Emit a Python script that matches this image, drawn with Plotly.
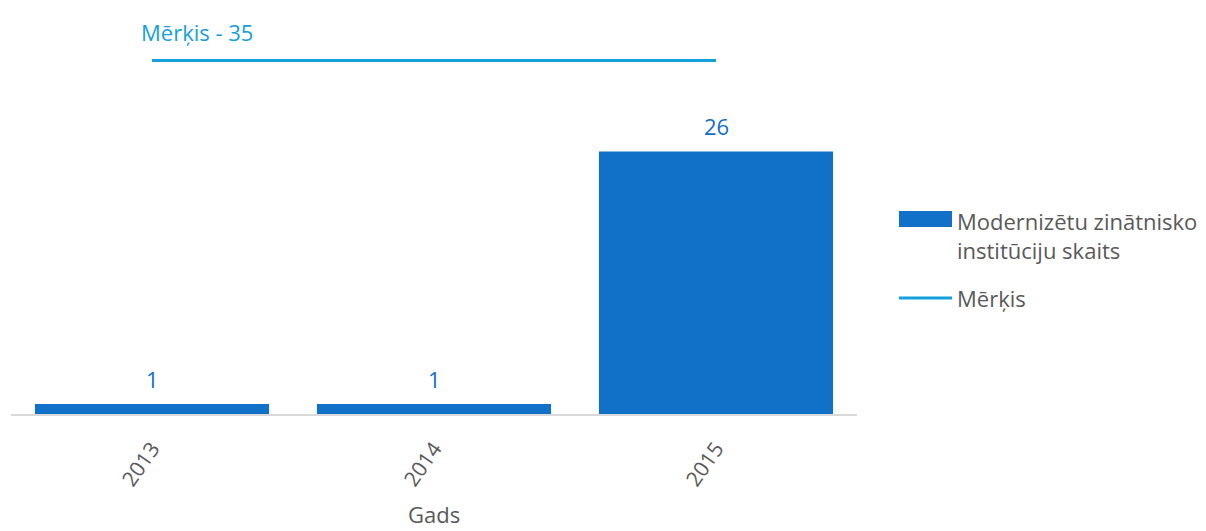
import plotly.graph_objects as go

years = ["2013", "2014", "2015"]
values = [1, 1, 26]
target = 35
target_years = ["2013", "2015"]
series_name = "Modernizētu zinātnisko<br>institūciju skaits"
target_name = "Mērķis"
x_title = "Gads"

BAR = "#1170c8"
LINE = "#14a0dc"
GREY = "#595959"
FONT = "Open Sans"

fig = go.Figure()
fig.add_trace(go.Bar(
    x=years, y=values, marker_color=BAR, marker_line_width=0,
    showlegend=False,
))
fig.add_trace(go.Scatter(
    x=target_years, y=[target, target], mode="lines",
    line=dict(color=LINE, width=3), showlegend=False,
))

# data labels
for i, v in enumerate(values):
    fig.add_annotation(x=i, y=v, xref="x", yref="y", text=str(v), showarrow=False,
                       xanchor="center", yanchor="middle", yshift=25,
                       font=dict(color=BAR, size=22, family=FONT))

fig.add_annotation(x=years.index(target_years[0]), y=target, xref="x", yref="y",
                   text=f"{target_name} - {target}", showarrow=False,
                   xanchor="left", yanchor="middle", xshift=-13, yshift=29,
                   font=dict(color=LINE, size=22, family=FONT))

# x axis title
fig.add_annotation(xref="paper", yref="paper", x=0.5, y=(414 - 514) / 404,
                   text=x_title, showarrow=False, xanchor="center", yanchor="middle",
                   font=dict(color=GREY, size=22, family=FONT))

# custom legend
fig.add_shape(type="rect", xref="paper", yref="paper",
              x0=(899 - 11) / 846, x1=(952 - 11) / 846,
              y0=(414 - 227) / 404, y1=(414 - 211) / 404,
              fillcolor=BAR, line_width=0)
fig.add_annotation(xref="paper", yref="paper", x=(955 - 11) / 846, y=(414 - 235) / 404,
                   text=series_name, showarrow=False, xanchor="left", yanchor="middle",
                   align="left", font=dict(color=GREY, size=22, family=FONT))
fig.add_shape(type="line", xref="paper", yref="paper",
              x0=(899 - 11) / 846, x1=(952 - 11) / 846,
              y0=(414 - 298) / 404, y1=(414 - 298) / 404,
              line=dict(color=LINE, width=3))
fig.add_annotation(xref="paper", yref="paper", x=(955 - 11) / 846, y=(414 - 298) / 404,
                   text=target_name, showarrow=False, xanchor="left", yanchor="middle",
                   font=dict(color=GREY, size=22, family=FONT))

fig.update_layout(
    width=1206, height=531,
    margin=dict(l=11, r=349, t=10, b=117),
    paper_bgcolor="white", plot_bgcolor="white",
    bargap=0.17,
    font=dict(family=FONT, color=GREY),
    xaxis=dict(type="category", categoryorder="array", categoryarray=years,
               range=[-0.5, len(years) - 0.5], automargin=False,
               showline=True, linecolor="#d9d9d9", linewidth=2,
               ticks="", tickangle=-55, ticklabelstandoff=12,
               tickfont=dict(size=21, color=GREY),
               showgrid=False),
    yaxis=dict(range=[0, 40], visible=False, showgrid=False),
)

fig.write_html("out.html")
